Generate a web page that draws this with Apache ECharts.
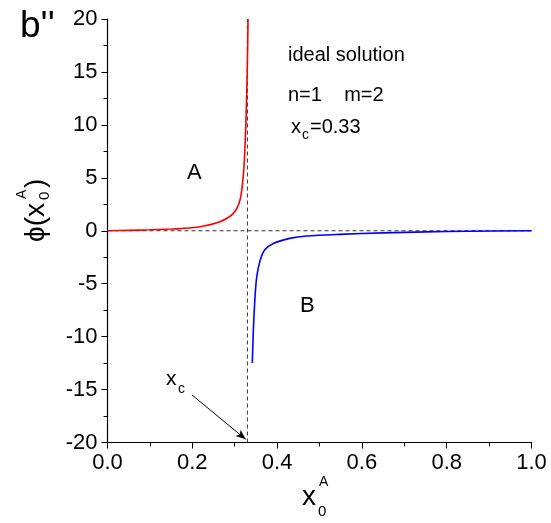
<!DOCTYPE html>
<html>
<head>
<meta charset="utf-8">
<script src="https://cdn.jsdelivr.net/npm/echarts@6/dist/echarts.min.js"></script>
<style>
html,body{margin:0;padding:0;background:#fff;}
#chart{width:551px;height:523px;}
</style>
</head>
<body>
<div id="chart"></div>
<script>
// ---- data ----
var curveA = [[0,0],[0.05,0.04],[0.1,0.09],[0.15,0.16],[0.171,0.2],[0.218,0.38],[0.265,0.85],[0.297,1.64],[0.3125,2.9],[0.320,5.1],[0.324,7.6],[0.328,12.4],[0.330,16],[0.3315,20]];
var curveB = [[0.3415,-12.5],[0.344,-9.4],[0.348,-6.2],[0.352,-4.35],[0.360,-2.8],[0.371,-1.8],[0.391,-1.2],[0.430,-0.72],[0.470,-0.5],[0.548,-0.34],[0.65,-0.2],[0.75,-0.11],[0.85,-0.05],[1.0,0]];
var xCritical = 0.33;
var zeroLine = [[0,0],[1,0]];
var critLine = [[xCritical,-20],[xCritical,20]];
var arrowFrom = [0.199,-15.5];
var arrowTo = [0.326,-19.7];
var xTicks = {min:0, max:1, interval:0.2};
var yTicks = {min:-20, max:20, interval:5};

var FONT = 'Arial, "Liberation Sans", Helvetica, sans-serif';
var chart = echarts.init(document.getElementById('chart'), null, {renderer:'canvas'});

function txt(x, y, s, size, extra) {
  var o = {type:'text', x:x, y:y, style:{text:s, font: size+'px '+FONT, fill:'#000', textVerticalAlign:'middle'}};
  if (extra) for (var k in extra) o.style[k] = extra[k];
  return o;
}

var option = {
  animation:false,
  grid:{left:107.5, right:19.5, top:19, bottom:80.5},
  xAxis:{type:'value', min:xTicks.min, max:xTicks.max, interval:xTicks.interval,
    axisLine:{onZero:false, lineStyle:{color:'#000', width:1.2}},
    axisTick:{inside:false, length:6, lineStyle:{color:'#000'}},
    minorTick:{show:true, splitNumber:2, length:4, lineStyle:{color:'#000'}},
    splitLine:{show:false},
    axisLabel:{color:'#000', fontSize:22, fontFamily:FONT, margin:9, formatter:function(v){return v.toFixed(1);}}},
  yAxis:{type:'value', min:yTicks.min, max:yTicks.max, interval:yTicks.interval,
    axisLine:{show:true, onZero:false, lineStyle:{color:'#000', width:1.2}},
    axisTick:{show:true, inside:false, length:6, lineStyle:{color:'#000'}},
    minorTick:{show:true, splitNumber:2, length:4, lineStyle:{color:'#000'}},
    splitLine:{show:false},
    axisLabel:{color:'#000', fontSize:22, fontFamily:FONT, margin:10}},
  series:[
    {type:'line', data:zeroLine, symbol:'none', silent:true, lineStyle:{color:'#333', width:1, type:[4,3]}},
    {type:'line', data:critLine, symbol:'none', silent:true, lineStyle:{color:'#333', width:1, type:[4,3]}},
    {type:'line', data:curveA, symbol:'none', smooth:0.3, clip:true, lineStyle:{color:'#ff0000', width:1.6}},
    {type:'line', data:curveB, symbol:'none', smooth:0.3, lineStyle:{color:'#0000ff', width:1.6}},
    {type:'line', data:[], symbol:'none',
      markLine:{silent:true, symbol:['none','arrow'], symbolSize:[6,10], label:{show:false},
        lineStyle:{color:'#000', width:1, type:'solid'},
        data:[[{coord:arrowFrom},{coord:arrowTo}]]}}
  ],
  graphic:[
    txt(20, 27, "b''", 37),
    txt(288, 55, 'ideal solution', 20),
    txt(288, 95, 'n=1    m=2', 20),
    txt(291, 127, 'x', 20),
    txt(302, 135, 'c', 14),
    txt(310, 127, '=0.33', 20),
    txt(187, 173, 'A', 22),
    txt(300, 306, 'B', 22),
    txt(166, 379, 'x', 21),
    txt(178, 389, 'c', 14),
    // x axis title
    txt(302, 497, 'x', 28),
    txt(318, 512, '0', 15),
    txt(319, 482, 'A', 14),
    // y axis title (rotated)
    {type:'group', x:36, y:242, rotation:Math.PI/2, children:[
      txt(0, 0, 'ϕ(x', 28),
      txt(42, 9, '0', 15),
      txt(43, -14, 'A', 14),
      txt(54, 0, ')', 28)
    ]}
  ]
};
chart.setOption(option);
</script>
</body>
</html>
